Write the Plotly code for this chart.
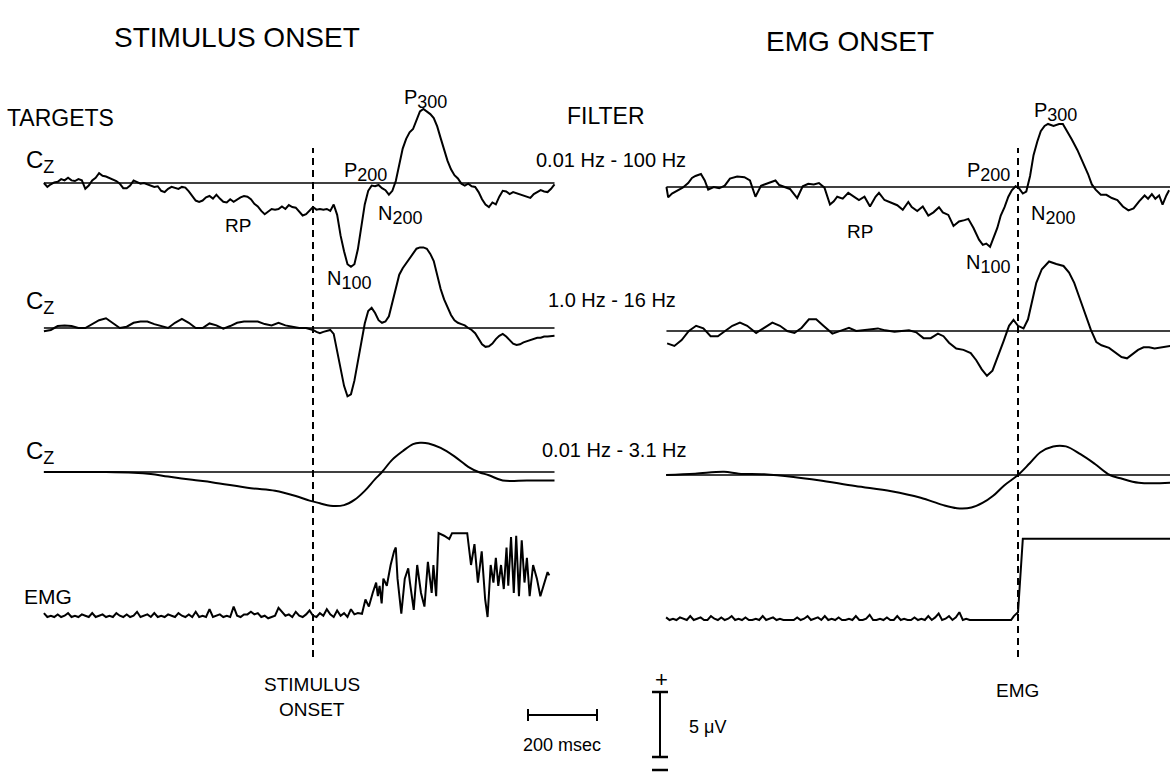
import numpy as np
import plotly.graph_objects as go

# ---------------------------------------------------------------- data
# Times in ms relative to the trigger, amplitudes in microvolts (positive up).

# Stimulus-locked Cz, 0.01-100 Hz, sampled every 10 ms from -780 ms
stim_cz_wide = [
    0.0, -0.3, -0.1, 0.05, 0.1, 0.3, 0.2, 0.4, 0.2, 0.15,
    0.3, 0.2, -0.45, -0.2, 0.2, 0.4, 0.75, 0.55, 0.5, 0.4,
    0.25, 0.15, -0.05, -0.4, -0.4, -0.2, 0.2, 0.1, -0.05, 0.0,
    -0.1, -0.2, -0.3, -0.25, -0.6, -0.7, -0.45, -0.3, -0.4, -0.45,
    -0.3, -0.35, -0.65, -1.0, -1.35, -1.45, -1.35, -1.1, -1.0, -1.2,
    -0.9, -1.2, -1.45, -1.5, -1.25, -1.45, -1.25, -1.1, -1.0, -1.05,
    -1.25, -1.6, -1.8, -2.15, -2.4, -2.2, -2.0, -2.05, -2.0, -1.8,
    -2.0, -1.7, -1.85, -1.9, -2.2, -2.5, -2.4, -2.15, -1.85, -2.05,
    -2.0, -2.05, -2.0, -2.15, -1.65, -2.45, -4.05, -5.25, -6.25, -6.45,
    -6.25, -5.1, -3.5, -1.65, -0.6, -0.2, -0.25, -0.15, -0.4, -0.55,
    -0.9, -0.6, 0.15, 1.55, 2.65, 3.4, 3.9, 4.15, 4.9, 5.5,
    5.7, 5.5, 5.3, 5.0, 4.35, 3.45, 2.6, 1.7, 1.05, 0.6,
    0.35, -0.05, -0.2, -0.05, -0.25, -0.3, -0.7, -1.25, -1.65, -1.85,
    -1.5, -1.65, -1.05, -0.6, -0.65, -0.85, -0.7, -0.8, -0.9, -1.0,
    -1.1, -1.15, -0.85, -0.7, -0.55, -0.65, -0.7, -0.45, -0.1,
]
stim_cz_wide_t = np.arange(len(stim_cz_wide)) * 10 - 780

# Stimulus-locked Cz, 1.0-16 Hz: 20 ms steps before onset, 10 ms after
stim_cz_band_t = list(range(-780, 0, 20)) + list(range(0, 701, 10))
stim_cz_band = [
    -0.25, -0.15, 0.15, 0.2, 0.15, 0.0, 0.0, 0.3, 0.6, 0.75,
    0.35, 0.0, 0.1, 0.4, 0.5, 0.5, 0.3, 0.15, 0.0, 0.4,
    0.7, 0.4, 0.0, 0.0, 0.35, 0.2, -0.05, 0.15, 0.4, 0.5,
    0.5, 0.5, 0.3, 0.2, 0.4, 0.2, 0.1, 0.0, 0.0,
    -0.15, -0.3, -0.4, -0.3, -0.2, -0.15, -0.45, -1.8, -3.1, -4.45,
    -5.25, -5.1, -4.05, -2.6, -1.25, 0.35, 1.3, 1.55, 1.15, 0.6,
    0.4, 0.5, 0.9, 1.95, 3.15, 4.1, 4.6, 5.0, 5.4, 5.8,
    6.1, 6.2, 6.2, 6.1, 5.7, 5.15, 4.1, 3.0, 2.2, 1.55,
    1.0, 0.6, 0.4, 0.3, 0.2, 0.0, -0.15, -0.4, -0.85, -1.25,
    -1.45, -1.4, -1.2, -0.85, -0.6, -0.45, -0.65, -0.95, -1.2, -1.3,
    -1.25, -1.1, -1.0, -0.95, -0.85, -0.75, -0.75, -0.65, -0.65, -0.6,
    -0.6,
]

# Stimulus-locked Cz, 0.01-3.1 Hz
stim_cz_slow_t = [-780, -600, -520, -470, -420, -350, -290, -180, -110, -50,
                  -10, 20, 50, 90, 120, 150, 180, 200, 230, 260,
                  290, 310, 335, 370, 410, 450, 480, 510, 550, 620, 700]
stim_cz_slow = [0.0, 0.0, -0.05, -0.15, -0.35, -0.6, -0.8, -1.25, -1.45, -1.85,
                -2.2, -2.4, -2.6, -2.55, -2.15, -1.45, -0.55, 0.0, 0.95, 1.6,
                2.15, 2.25, 2.2, 1.85, 1.2, 0.4, 0.0, -0.25, -0.65, -0.65, -0.65]

# Stimulus-locked EMG: quiet record every 10 ms from -780 ms, then the burst
stim_emg_rest = [
    0.3, 0.0, 0.1, 0.0, 0.2, 0.0, 0.1, 0.3, 0.0, 0.1,
    0.0, 0.2, 0.1, 0.0, 0.3, 0.0, 0.1, 0.2, 0.0, 0.1,
    0.0, 0.3, 0.1, 0.0, 0.2, 0.0, 0.1, 0.4, 0.0, 0.1,
    0.2, 0.0, 0.3, 0.0, 0.1, 0.0, 0.2, 0.1, 0.0, 0.3,
    0.1, 0.0, 0.2, 0.0, 0.4, 0.0, 0.1, 0.0, 0.6, 0.0,
    0.1, 0.2, 0.0, 0.1, 0.0, 0.8, 0.1, 0.0, 0.2, 0.2,
    0.4, 0.2, 0.3, 0.0, 0.1, -0.1, 0.0, 0.1, 0.7, 0.4,
    0.1, 0.2, 0.0, 0.4, 0.1, 0.0, 0.2, 0.5, 0.1, 0.0,
    0.3, 0.1, 0.6, 0.2, 0.0, 0.5, 0.1, 0.3, 0.0, 0.6,
    0.2, 0.3,
]
stim_emg_rest_t = np.arange(len(stim_emg_rest)) * 10 - 780
stim_emg_burst_t = [142, 152, 162, 173, 183, 188, 193, 199, 204, 214,
                    225, 235, 240, 245, 256, 266, 276, 281, 292, 302,
                    313, 323, 333, 344, 349, 357, 364, 380, 395, 403,
                    447, 458, 468, 478, 489, 499, 506, 515, 523, 530,
                    537, 545, 553, 561, 566, 574, 582, 589, 597, 605,
                    613, 620, 628, 638, 649, 659, 669, 680, 685]
stim_emg_burst = [0.25, 1.35, 0.8, 1.85, 2.65, 1.6, 2.4, 1.05, 2.95, 2.4,
                  4.0, 5.05, 5.35, 2.95, 0.25, 2.95, 3.75, 2.65, 0.55, 4.0,
                  1.85, 0.8, 4.25, 1.85, 4.0, 1.6, 6.45, 6.25, 6.0, 6.45,
                  6.45, 4.0, 5.6, 2.65, 5.05, 1.35, 0.0, 4.0, 2.65, 4.55,
                  2.4, 4.0, 2.15, 5.35, 2.4, 6.15, 1.85, 6.25, 1.6, 5.9,
                  2.65, 4.55, 1.6, 4.0, 2.95, 1.6, 2.4, 3.45, 3.2]

# EMG-locked Cz, 0.01-100 Hz
emg_cz_wide_t = [-1019, -1014, -1003, -987, -972, -956, -945, -935, -919, -908,
                 -898, -882, -866, -850, -835, -814, -793, -777, -761, -745,
                 -729, -713, -703, -692, -677, -661, -640, -624, -608, -592,
                 -577, -561, -545, -534, -524, -508, -492, -476, -461, -445,
                 -429, -413, -403, -387, -371, -350, -334, -318, -308, -292,
                 -276, -260, -245, -229, -218, -202, -187, -171, -155, -144,
                 -129, -113, -102, -92, -81, -71, -60, -50, -39, -28,
                 -18, -7, 3, 14, 24, 35, 45, 56, 66, 77,
                 87, 103, 119, 130, 145, 156, 172, 188, 203, 214,
                 225, 240, 256, 272, 288, 304, 320, 335, 351, 367,
                 377, 388, 398, 409, 419, 430, 438]
emg_cz_wide = [0.0, -0.8, -0.5, -0.25, -0.05, 0.3, 0.7, 0.85, 1.0, 0.5,
               -0.2, 0.0, -0.1, 0.1, 0.65, 0.8, 0.75, 0.5, -0.75, 0.1,
               0.25, 0.4, 0.5, 0.15, 0.0, -0.15, -0.85, 0.05, 0.25, 0.2,
               0.3, -0.05, -1.35, -1.1, -0.75, -0.9, -0.45, -0.75, -1.0, -0.75,
               -1.5, -0.75, -0.45, -1.0, -1.2, -1.4, -1.75, -1.15, -1.55, -1.85,
               -1.5, -2.2, -1.95, -1.55, -1.95, -2.15, -3.0, -2.65, -2.55, -2.45,
               -3.15, -4.05, -4.45, -4.35, -4.6, -3.95, -3.15, -2.2, -1.55, -0.75,
               -0.25, 0.05, -0.1, -0.5, -0.35, 0.85, 2.45, 3.5, 4.3, 4.7,
               4.85, 4.7, 4.85, 4.85, 4.2, 3.65, 2.85, 1.95, 1.0, 0.2,
               -0.2, -0.6, -0.6, -0.85, -1.0, -1.5, -1.8, -1.65, -1.1, -0.65,
               -0.9, -0.55, -0.9, -0.65, -1.35, -0.65, -0.25]

# EMG-locked Cz, 1.0-16 Hz
emg_cz_band_t = [-1017, -996, -975, -954, -933, -912, -891, -870, -849, -828,
                 -806, -785, -759, -733, -712, -690, -669, -648, -627, -606,
                 -585, -564, -538, -511, -490, -469, -448, -427, -406, -385,
                 -358, -337, -316, -295, -274, -253, -232, -216, -200, -179,
                 -158, -137, -121, -105, -90, -74, -58, -42, -26, -13,
                 0, 16, 29, 42, 53, 69, 90, 111, 132, 148,
                 163, 179, 195, 211, 227, 242, 264, 285, 300, 316,
                 332, 348, 364, 380, 396, 411, 427, 441]
emg_cz_band = [-0.95, -1.15, -0.7, 0.0, 0.4, 0.2, -0.4, -0.4, 0.0, 0.4,
               0.65, 0.4, -0.15, 0.3, 0.65, 0.4, 0.0, -0.15, 0.25, 0.9,
               0.9, 0.4, -0.2, 0.05, 0.25, 0.0, 0.05, 0.15, 0.2, 0.05,
               -0.05, 0.0, 0.05, -0.1, -0.55, -0.55, -0.2, -0.4, -0.9, -1.35,
               -1.45, -1.7, -2.25, -2.95, -3.45, -3.05, -2.0, -0.8, 0.4, 0.85,
               0.4, 0.2, 0.9, 2.35, 3.7, 4.75, 5.35, 5.15, 5.0, 4.5,
               3.7, 2.5, 1.3, 0.1, -0.85, -1.1, -1.3, -1.7, -2.0, -2.1,
               -1.75, -1.45, -1.25, -1.25, -1.35, -1.3, -1.2, -1.15]

# EMG-locked Cz, 0.01-3.1 Hz
emg_cz_slow_t = [-1020, -936, -852, -809, -736, -651, -578, -472, -367, -282,
                 -219, -177, -135, -103, -72, -40, 0, 34, 65, 102,
                 139, 181, 223, 266, 297, 350, 443]
emg_cz_slow = [0.0, 0.1, 0.25, 0.1, 0.05, -0.15, -0.4, -0.85, -1.25, -1.75,
               -2.3, -2.55, -2.5, -2.15, -1.6, -0.8, 0.0, 0.9, 1.75, 2.2,
               2.2, 1.6, 0.85, 0.0, -0.25, -0.6, -0.6]

# EMG-locked EMG: quiet record every 10 ms from -1020 ms, then the step
emg_emg_rest = [
    0.2, 0.0, 0.1, 0.0, 0.2, 0.1, 0.0, 0.3, 0.0, 0.1,
    0.2, 0.0, 0.0, 0.3, 0.1, 0.0, 0.2, 0.0, 0.1, 0.3,
    0.0, 0.1, 0.0, 0.2, 0.0, 0.0, 0.1, 0.0, 0.3, 0.0,
    0.1, 0.2, 0.0, 0.1, 0.0, 0.0, 0.0, 0.0, 0.2, 0.0,
    0.1, 0.3, 0.0, 0.1, 0.2, 0.0, 0.3, 0.0, 0.1, 0.0,
    0.2, 0.0, 0.0, 0.1, 0.0, 0.3, 0.0, 0.0, 0.1, 0.4,
    0.0, 0.0, 0.1, 0.0, 0.2, 0.0, 0.0, 0.3, 0.0, 0.1,
    0.0, 0.0, 0.2, 0.0, 0.1, 0.0, 0.3, 0.0, 0.2, 0.5,
    0.0, 0.1, 0.3, 0.0, 0.2, 0.6, 0.0, 0.1, 0.0, 0.0,
    0.0, 0.0, 0.0,
]
emg_emg_rest_t = np.arange(len(emg_emg_rest)) * 10 - 1020
emg_emg_step_t = [-90, -20, -12, 0, 14, 450]
emg_emg_step = [0.0, 0.0, 0.3, 0.6, 6.25, 6.25]

# time span covered by the baselines of each panel
stim_span = (-780, 700)
emg_span = (-1019, 450)

# ---------------------------------------------------------------- layout
W, H = 1170, 772
MS_PX = 0.345     # pixels per millisecond
UV_PX = 13.0      # pixels per microvolt
FONT = "Liberation Sans, Arial, Helvetica, sans-serif"
INK = "black"

onset_px = {"x": 313, "x2": 1018}
rows_px = {"x": [183, 328, 472, 617], "x2": [187, 331, 475, 620]}


def px(x):
    return x / W


def py(y):
    return 1 - y / H


fig = go.Figure()
layout = dict(
    width=W, height=H,
    margin=dict(l=0, r=0, t=0, b=0),
    paper_bgcolor="white", plot_bgcolor="rgba(0,0,0,0)",
    showlegend=False,
)

axis_off = dict(visible=False, showgrid=False, zeroline=False, fixedrange=True)
for xname, onset in onset_px.items():
    key = "xaxis" if xname == "x" else "xaxis2"
    layout[key] = dict(axis_off, domain=[0, 1],
                       range=[-onset / MS_PX, (W - onset) / MS_PX])

yaxes = {}
n = 1
for xname in ("x", "x2"):
    for base in rows_px[xname]:
        key = "yaxis" if n == 1 else f"yaxis{n}"
        layout[key] = dict(axis_off, domain=[0, 1], anchor=xname,
                           range=[(base - H) / UV_PX, base / UV_PX])
        yaxes[(xname, base)] = "y" if n == 1 else f"y{n}"
        n += 1

line_style = dict(color=INK, width=2.0)


def add(t, v, xname, row, shape="linear"):
    fig.add_trace(go.Scatter(
        x=list(t), y=list(v), mode="lines",
        line=dict(line_style, shape=shape),
        xaxis=xname, yaxis=yaxes[(xname, rows_px[xname][row])],
        hoverinfo="skip"))


add(stim_cz_wide_t, stim_cz_wide, "x", 0)
add(stim_cz_band_t, stim_cz_band, "x", 1)
add(stim_cz_slow_t, stim_cz_slow, "x", 2, shape="spline")
add(list(stim_emg_rest_t) + stim_emg_burst_t,
    list(stim_emg_rest) + stim_emg_burst, "x", 3)

add(emg_cz_wide_t, emg_cz_wide, "x2", 0)
add(emg_cz_band_t, emg_cz_band, "x2", 1)
add(emg_cz_slow_t, emg_cz_slow, "x2", 2, shape="spline")
add(list(emg_emg_rest_t) + emg_emg_step_t,
    list(emg_emg_rest) + emg_emg_step, "x2", 3)

shapes = []
# zero baselines under the three Cz records of each panel
for xname, span in (("x", stim_span), ("x2", emg_span)):
    for row in range(3):
        shapes.append(dict(type="line", xref=xname,
                           yref=yaxes[(xname, rows_px[xname][row])],
                           x0=span[0], x1=span[1], y0=0, y1=0,
                           line=dict(color=INK, width=1.7)))
    # trigger marker
    shapes.append(dict(type="line", xref=xname, yref="paper",
                       x0=0, x1=0, y0=py(657), y1=py(148),
                       line=dict(color=INK, width=2, dash="7px,5px")))

# calibration: 200 ms and 5 uV
bar_x0, bar_y = 528, 715
bar_x1 = bar_x0 + 200 * MS_PX
shapes.append(dict(type="line", xref="paper", yref="paper",
                   x0=px(bar_x0), x1=px(bar_x1), y0=py(bar_y), y1=py(bar_y),
                   line=dict(color=INK, width=2)))
for xe in (bar_x0, bar_x1):
    shapes.append(dict(type="line", xref="paper", yref="paper",
                       x0=px(xe), x1=px(xe), y0=py(bar_y - 6), y1=py(bar_y + 6),
                       line=dict(color=INK, width=2)))
vb_x, vb_top = 660, 692
vb_bot = vb_top + 5 * UV_PX
shapes.append(dict(type="line", xref="paper", yref="paper",
                   x0=px(vb_x), x1=px(vb_x), y0=py(vb_top), y1=py(vb_bot),
                   line=dict(color=INK, width=2)))
for ye in (vb_top, vb_bot, 770):
    shapes.append(dict(type="line", xref="paper", yref="paper",
                       x0=px(vb_x - 8), x1=px(vb_x + 8), y0=py(ye), y1=py(ye),
                       line=dict(color=INK, width=2.5)))
layout["shapes"] = shapes


def sub(base, s, size):
    return f"{base}<sub><span style='font-size:{size}px'>{s}</span></sub>"


texts = [
    # text, x, y, size, xanchor
    ("STIMULUS ONSET", 237, 38, 28, "center"),
    ("EMG ONSET", 850, 42, 28, "center"),
    ("TARGETS", 5, 118, 23, "left"),
    ("FILTER", 606, 116, 23, "center"),
    (sub("C", "Z", 18), 24, 162, 24, "left"),
    (sub("C", "Z", 18), 24, 302, 24, "left"),
    (sub("C", "Z", 18), 24, 452, 24, "left"),
    ("EMG", 22, 596, 21, "left"),
    ("0.01 Hz - 100 Hz", 611, 160, 20, "center"),
    ("1.0 Hz - 16 Hz", 612, 300, 20, "center"),
    ("0.01 Hz - 3.1 Hz", 614, 450, 20, "center"),
    (sub("P", "300", 18), 425, 99, 20, "center"),
    (sub("P", "200", 18), 365, 172, 20, "center"),
    (sub("N", "200", 18), 400, 215, 20, "center"),
    ("RP", 238, 226, 19, "center"),
    (sub("N", "100", 18), 349, 280, 20, "center"),
    (sub("P", "300", 18), 1055, 112, 20, "center"),
    (sub("P", "200", 18), 988, 172, 20, "center"),
    (sub("N", "200", 18), 1053, 215, 20, "center"),
    ("RP", 860, 232, 19, "center"),
    (sub("N", "100", 18), 988, 264, 20, "center"),
    ("STIMULUS", 312, 684, 19, "center"),
    ("ONSET", 312, 709, 19, "center"),
    ("EMG", 1017, 690, 19, "center"),
    ("200 msec", 562, 745, 18, "center"),
    ("+", 661, 679, 22, "center"),
    ("5 μV", 687, 727, 18, "left"),
]
layout["annotations"] = [
    dict(text=t, x=px(x), y=py(y), xref="paper", yref="paper",
         xanchor=a, yanchor="middle", showarrow=False,
         font=dict(family=FONT, size=s, color=INK))
    for t, x, y, s, a in texts
]

fig.update_layout(**layout)
fig.write_html("out.html")
